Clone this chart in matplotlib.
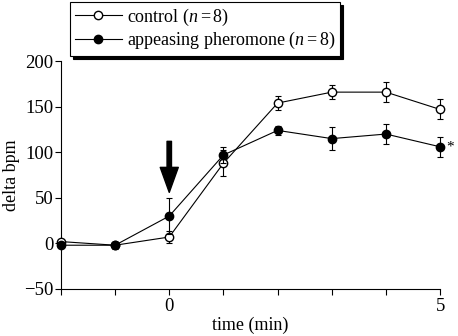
import numpy as np
import matplotlib
matplotlib.use("Agg")
import matplotlib.pyplot as plt

plt.rcParams['font.family'] = ['Liberation Serif', 'DejaVu Serif']
plt.rcParams['mathtext.fontset'] = 'custom'
plt.rcParams['mathtext.rm'] = 'Liberation Serif'
plt.rcParams['mathtext.it'] = 'Liberation Serif:italic'

# time points (min)
time = [-2, -1, 0, 1, 2, 3, 4, 5]

# control (n=8)
control = [2, -2, 7, 88, 154, 166, 166, 147]
control_err = [0, 0, 7, 14, 8, 8, 11, 11]

# appeasing pheromone (n=8)
pheromone = [-2, -2, 30, 97, 124, 115, 120, 106]
pheromone_err = [0, 4, 20, 9, 5, 13, 11, 11]

fig = plt.figure(figsize=(4.58, 3.36), dpi=100)
ax = fig.add_axes([0.133, 0.140, 0.828, 0.678])

ax.errorbar(time, control, yerr=control_err, fmt='-o', color='black',
            mfc='white', mec='black', ms=6, lw=0.8, elinewidth=0.8,
            capsize=2.5, capthick=0.8, clip_on=False, zorder=3,
            label='control ($n=8$)')
ax.errorbar(time, pheromone, yerr=pheromone_err, fmt='-o', color='black',
            mfc='black', mec='black', ms=6, lw=0.8, elinewidth=0.8,
            capsize=2.5, capthick=0.8, clip_on=False, zorder=4,
            label='appeasing pheromone ($n=8$)')

# stimulus arrow
ax.annotate('', xy=(0, 56), xytext=(0, 112),
            arrowprops=dict(facecolor='black', edgecolor='black',
                            width=3.2, headwidth=13, headlength=18))

# significance mark
ax.text(5.12, pheromone[-1], '*', fontsize=11, ha='left', va='center')

ax.set_xlim(-2, 5)
ax.set_ylim(-50, 200)
ax.set_xticks(time)
ax.set_xticklabels(['' if t not in (0, 5) else str(t) for t in time])
ax.set_yticks([-50, 0, 50, 100, 150, 200])
ax.set_yticklabels(['\u221250', '0', '50', '100', '150', '200'])
ax.tick_params(direction='out', length=4.5, width=0.8, labelsize=13.5)
ax.tick_params(axis='y', pad=1)
ax.tick_params(axis='x', pad=2)
ax.spines['top'].set_visible(False)
ax.spines['right'].set_visible(False)
ax.spines['left'].set_linewidth(0.8)
ax.spines['bottom'].set_linewidth(0.8)

ax.set_xlabel('time (min)', fontsize=13, labelpad=1)
ax.set_ylabel('delta bpm', fontsize=13, labelpad=3)

handles, labels = ax.get_legend_handles_labels()
handles = [h[0] for h in handles]
leg = fig.legend(handles, labels, loc='upper left',
                 bbox_to_anchor=(0.153, 0.994), fontsize=13,
                 frameon=True, fancybox=False, edgecolor='black',
                 framealpha=1, borderaxespad=0, handlelength=2.6,
                 handletextpad=0.3, borderpad=0.25, labelspacing=0.15,
                 shadow={'color': 'black', 'alpha': 1})
leg.get_frame().set_linewidth(0.8)

fig.savefig('out.png', dpi=100)
